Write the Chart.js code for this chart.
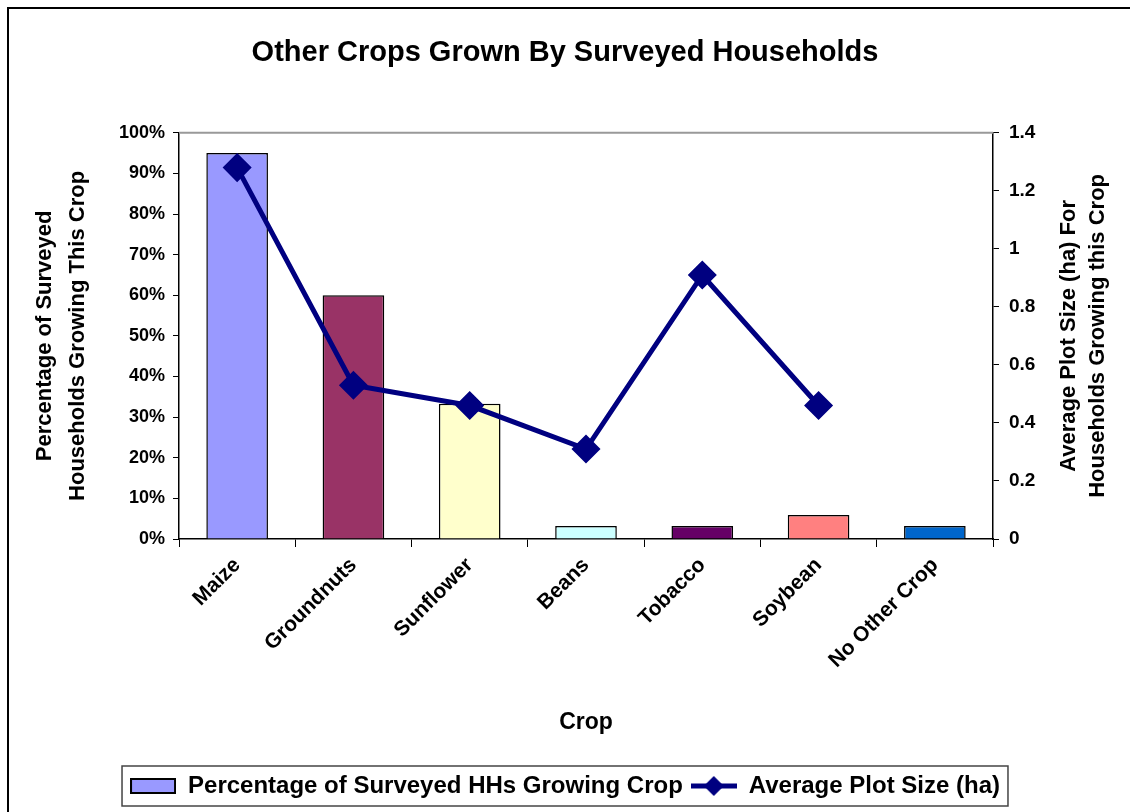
<!DOCTYPE html>
<html>
<head>
<meta charset="utf-8">
<script src="https://cdn.jsdelivr.net/npm/chart.js@4/dist/chart.umd.min.js"></script>
<style>
  body { margin: 0; background: #fff; }
  canvas { display: block; }
</style>
</head>
<body>
<canvas id="cropChart" width="1130" height="812"></canvas>
<script>
const crops = ["Maize", "Groundnuts", "Sunflower", "Beans", "Tobacco", "Soybean", "No Other Crop"];
const pctGrowing = [95, 60, 33.3, 3.2, 3.2, 5.9, 3.2];
const avgPlotSize = [1.28, 0.53, 0.46, 0.31, 0.91, 0.46, null];
const barColours = ["#9999FF", "#993366", "#FFFFCC", "#CCFFFF", "#660066", "#FF8080", "#0066CC"];

const FONT = "'Liberation Sans', Arial, sans-serif";

// legend swatches
function makeBarSwatch() {
    const c = document.createElement("canvas");
    c.width = 46; c.height = 16;
    const g = c.getContext("2d");
    g.fillStyle = "#9999FF";
    g.fillRect(1, 1, 44, 14);
    g.strokeStyle = "#000";
    g.lineWidth = 2;
    g.strokeRect(1, 1, 44, 14);
    return c;
}
function makeLineSwatch() {
    const c = document.createElement("canvas");
    c.width = 46; c.height = 22;
    const g = c.getContext("2d");
    g.strokeStyle = "#000080";
    g.lineWidth = 5;
    g.beginPath(); g.moveTo(0, 11); g.lineTo(46, 11); g.stroke();
    g.fillStyle = "#000080";
    g.beginPath(); g.moveTo(23, 1); g.lineTo(33, 11); g.lineTo(23, 21); g.lineTo(13, 11); g.closePath(); g.fill();
    return c;
}
const swatches = [makeBarSwatch(), makeLineSwatch()];

const extras = {
    id: "extras",
    afterDraw(chart) {
        const c = chart.ctx;
        const a = chart.chartArea;
        c.save();
        // outer frame
        c.strokeStyle = "#000";
        c.lineWidth = 2;
        c.strokeRect(8, 8, 1140, 820);
        // plot area top edge
        c.strokeStyle = "#999";
        c.lineWidth = 2;
        c.beginPath(); c.moveTo(a.left, a.top); c.lineTo(a.right, a.top); c.stroke();
        // axis titles
        c.fillStyle = "#000";
        c.font = "bold 22px " + FONT;
        c.textAlign = "center";
        c.textBaseline = "middle";
        const mid = (a.top + a.bottom) / 2;
        [[45, "Percentage of Surveyed"], [78, "Households Growing This Crop"],
         [1069, "Average Plot Size (ha) For"], [1098, "Households Growing this Crop"]].forEach(([x, t]) => {
            c.save();
            c.translate(x, mid);
            c.rotate(-Math.PI / 2);
            c.fillText(t, 0, 0);
            c.restore();
        });
        // legend border
        const boxes = chart.legend.legendHitBoxes;
        if (boxes && boxes.length) {
            const l = Math.min(...boxes.map(b => b.left)) - 8;
            const r = Math.max(...boxes.map(b => b.left + b.width)) + 8;
            const t = Math.min(...boxes.map(b => b.top)) - 8;
            const bt = Math.max(...boxes.map(b => b.top + b.height)) + 8;
            c.strokeStyle = "#444";
            c.lineWidth = 1.5;
            c.strokeRect(l, t, r - l, bt - t);
        }
        c.restore();
    }
};

const ctx = document.getElementById("cropChart").getContext("2d");
const cropChart = new Chart(ctx, {
    type: "bar",
    data: {
        labels: crops,
        datasets: [{
            label: "Percentage of Surveyed HHs Growing Crop",
            data: pctGrowing,
            backgroundColor: barColours,
            borderColor: "#000",
            borderWidth: 1.5,
            categoryPercentage: 1,
            barPercentage: 0.53,
            yAxisID: "y",
            order: 1
        }, {
            type: "line",
            label: "Average Plot Size (ha)",
            data: avgPlotSize,
            borderColor: "#000080",
            backgroundColor: "#000080",
            borderWidth: 5,
            pointStyle: "rectRot",
            pointRadius: 11,
            pointBackgroundColor: "#000080",
            pointBorderColor: "#000080",
            tension: 0,
            yAxisID: "y1",
            order: 0
        }]
    },
    options: {
        responsive: false,
        animation: false,
        layout: { padding: { left: 10, right: 10, top: 0, bottom: 4 } },
        plugins: {
            title: {
                display: true,
                text: "Other Crops Grown By Surveyed Households",
                color: "#000",
                font: { family: FONT, size: 29, weight: "bold" },
                padding: { top: 36, bottom: 62 }
            },
            legend: {
                position: "bottom",
                labels: {
                    color: "#000",
                    font: { family: FONT, size: 24, weight: "bold" },
                    usePointStyle: true,
                    pointStyleWidth: 46,
                    boxHeight: 16,
                    padding: 8,
                    sort: (a, b) => a.datasetIndex - b.datasetIndex,
                    generateLabels(chart) {
                        const items = Chart.defaults.plugins.legend.labels.generateLabels(chart);
                        items.forEach(it => { it.pointStyle = swatches[it.datasetIndex]; });
                        return items;
                    }
                }
            },
            tooltip: { enabled: false }
        },
        scales: {
            x: {
                offset: true,
                grid: { drawOnChartArea: false, color: "#000", tickLength: 8, offset: true },
                border: { color: "#000", width: 1.5 },
                ticks: {
                    color: "#000",
                    font: { family: FONT, size: 21, weight: "bold" },
                    minRotation: 45, maxRotation: 45,
                    padding: 6
                },
                title: {
                    display: true,
                    text: "Crop",
                    color: "#000",
                    font: { family: FONT, size: 23, weight: "bold" },
                    padding: { top: 4, bottom: 30 }
                },
                afterFit(scale) { scale.height = 227; }
            },
            y: {
                position: "left",
                min: 0, max: 100,
                ticks: {
                    stepSize: 10,
                    color: "#000",
                    font: { family: FONT, size: 18, weight: "bold" },
                    padding: 8,
                    callback: v => v + "%"
                },
                grid: { drawOnChartArea: false, color: "#000", tickLength: 6 },
                border: { color: "#000", width: 1.5 },
                afterFit(scale) { scale.width = 169; }
            },
            y1: {
                position: "right",
                min: 0, max: 1.4,
                ticks: {
                    stepSize: 0.2,
                    color: "#000",
                    font: { family: FONT, size: 19, weight: "bold" },
                    padding: 10,
                    callback: v => String(+v.toFixed(1))
                },
                grid: { drawOnChartArea: false, color: "#000", tickLength: 6 },
                border: { color: "#000", width: 1.5 },
                afterFit(scale) { scale.width = 127; }
            }
        }
    },
    plugins: [extras]
});
</script>
</body>
</html>
